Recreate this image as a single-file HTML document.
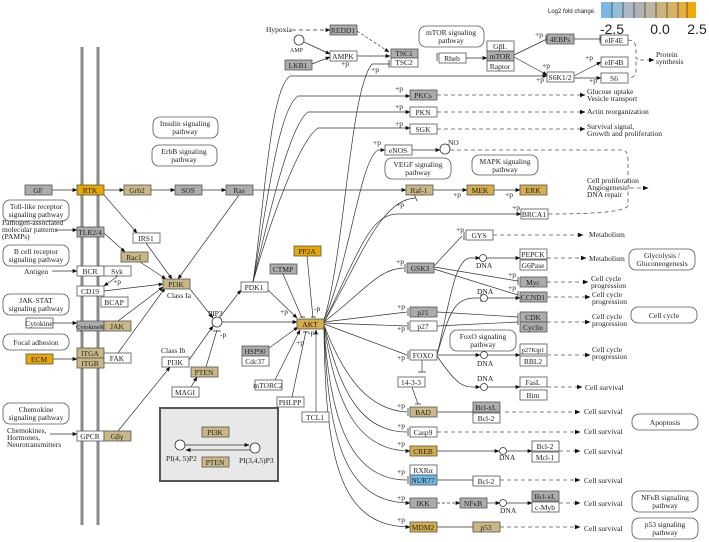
<!DOCTYPE html>
<html><head><meta charset="utf-8"><style>
html,body{margin:0;padding:0;background:#fff}
svg{display:block}
text{font-family:"Liberation Serif",serif;font-size:7.5px;fill:#222}
.n text,.c{text-anchor:middle}
rect.b{stroke:#555;stroke-width:0.8}
.w{fill:#fff}.g{fill:#acacac}.o{fill:#e8a800}.t{fill:#c9b886}.d{fill:#d5ad4a}.bl{fill:#6fb7e8}
.e{fill:none;stroke:#333;stroke-width:0.7}
.ds{fill:none;stroke:#555;stroke-width:0.8;stroke-dasharray:4 3}
.pw{fill:#fff;stroke:#555;stroke-width:0.8}
</style></head><body>
<svg width="709" height="542" viewBox="0 0 709 542" xmlns="http://www.w3.org/2000/svg">
<defs><marker id="a" viewBox="0 0 10 10" refX="9" refY="5" markerWidth="7" markerHeight="7" orient="auto"><path d="M0,1L10,5L0,9z" fill="#111"/></marker></defs>
<!-- membrane -->
<line x1="82" y1="47" x2="82" y2="525" stroke="#8a8a8a" stroke-width="3"/>
<line x1="98" y1="47" x2="98" y2="525" stroke="#8a8a8a" stroke-width="3"/>
<!-- legend -->
<text x="548" y="13" style="font-family:'Liberation Sans',sans-serif;font-size:6px">Log2 fold change</text>
<rect x="601" y="2" width="11" height="16" fill="#7ab9e6"/><rect x="612" y="2" width="11" height="16" fill="#94bdd8"/><rect x="623" y="2" width="11" height="16" fill="#abb9c6"/><rect x="634" y="2" width="11" height="16" fill="#b2b2b2"/><rect x="645" y="2" width="11" height="16" fill="#bdb6a2"/><rect x="656" y="2" width="11" height="16" fill="#ccb47e"/><rect x="667" y="2" width="11" height="16" fill="#d7b164"/><rect x="678" y="2" width="9" height="16" fill="#e4ae3e"/><rect x="687" y="2" width="9" height="16" fill="#efab0a"/>
<g stroke="#333" stroke-width="0.7"><line x1="612" y1="2" x2="612" y2="18"/><line x1="623" y1="2" x2="623" y2="18"/><line x1="634" y1="2" x2="634" y2="18"/><line x1="645" y1="2" x2="645" y2="18"/><line x1="656" y1="2" x2="656" y2="18"/><line x1="667" y1="2" x2="667" y2="18"/><line x1="678" y1="2" x2="678" y2="18"/><line x1="687" y1="2" x2="687" y2="18"/></g>
<g style="font-family:'Liberation Sans',sans-serif" font-size="14" text-anchor="middle"><text x="612" y="34" style="font-family:'Liberation Sans',sans-serif;font-size:14px">-2.5</text><text x="660" y="34" style="font-family:'Liberation Sans',sans-serif;font-size:14px">0.0</text><text x="697" y="34" style="font-family:'Liberation Sans',sans-serif;font-size:14px">2.5</text></g>

<!-- pathway boxes -->
<g>
<rect class="pw" x="153" y="117" width="65" height="21" rx="7"/><text class="c" x="185" y="126">Insulin signaling</text><text class="c" x="185" y="134">pathway</text>
<rect class="pw" x="152" y="145" width="65" height="21" rx="7"/><text class="c" x="184" y="154">ErbB signaling</text><text class="c" x="184" y="162">pathway</text>
<rect class="pw" x="3" y="200" width="66" height="21" rx="7"/><text class="c" x="36" y="209">Toll-like receptor</text><text class="c" x="36" y="217">signaling pathway</text>
<rect class="pw" x="3" y="245" width="66" height="21" rx="7"/><text class="c" x="36" y="254">B cell receptor</text><text class="c" x="36" y="262">signaling pathway</text>
<rect class="pw" x="3" y="294" width="66" height="21" rx="7"/><text class="c" x="36" y="303">JAK-STAT</text><text class="c" x="36" y="311">signaling pathway</text>
<rect class="pw" x="3" y="334" width="66" height="16" rx="7"/><text class="c" x="36" y="345">Focal adhesion</text>
<rect class="pw" x="3" y="403" width="66" height="21" rx="7"/><text class="c" x="36" y="412">Chemokine</text><text class="c" x="36" y="420">signaling pathway</text>
<rect class="pw" x="419" y="26" width="65" height="21" rx="7"/><text class="c" x="451" y="35">mTOR signaling</text><text class="c" x="451" y="43">pathway</text>
<rect class="pw" x="385" y="158" width="66" height="21" rx="7"/><text class="c" x="418" y="167">VEGF signaling</text><text class="c" x="418" y="175">pathway</text>
<rect class="pw" x="472" y="155" width="66" height="20" rx="7"/><text class="c" x="505" y="164">MAPK signaling</text><text class="c" x="505" y="172">pathway</text>
<rect class="pw" x="629" y="249" width="66" height="21" rx="7"/><text class="c" x="662" y="258">Glycolysis /</text><text class="c" x="662" y="266">Gluconeogenesis</text>
<rect class="pw" x="631" y="307" width="66" height="16" rx="7"/><text class="c" x="664" y="318">Cell cycle</text>
<rect class="pw" x="450" y="330" width="66" height="21" rx="7"/><text class="c" x="483" y="339">FoxO signaling</text><text class="c" x="483" y="347">pathway</text>
<rect class="pw" x="632" y="414" width="66" height="16" rx="7"/><text class="c" x="665" y="425">Apoptosis</text>
<rect class="pw" x="632" y="491" width="66" height="21" rx="7"/><text class="c" x="665" y="500">NFκB signaling</text><text class="c" x="665" y="508">pathway</text>
<rect class="pw" x="632" y="518" width="66" height="21" rx="7"/><text class="c" x="665" y="527">p53 signaling</text><text class="c" x="665" y="535">pathway</text>
</g>
<rect x="160" y="408" width="118" height="73" fill="#e8e8e8" stroke="#555" stroke-width="2"/>

<!-- edges -->
<g class="e" marker-end="url(#a)">
<path d="M292,30H330"  stroke-dasharray="4 3"/>
<path d="M304,42L330,54"/><path d="M312,64L330,57"/>
<path d="M357,31L389,52" stroke-dasharray="3 2"/>
<path d="M357,56H390"/>
<path d="M466,58H487"/><path d="M514,55L547,39" marker-end="none"/><path d="M514,57L547,75"/>
<path d="M574,39H601" marker-end="none"/><path d="M574,76L601,62"/><path d="M574,78H601"/>
<path d="M52,190H77"/><path d="M104,190H124"/><path d="M151,190H175"/><path d="M202,190H226"/>
<path d="M253,190H406"/><path d="M433,190H467"/><path d="M494,190H520"/>
<path d="M239,195L178,279"/><path d="M104,195L137,233"/><path d="M146,243L172,279"/>
<path d="M55,230H77"/><path d="M104,233L125,252"/><path d="M140,262L166,279"/>
<path d="M52,271H77"/><path d="M118,276L104,286"/><path d="M104,291L163,284"/>
<path d="M118,321L163,287"/><path d="M118,353L165,288"/><path d="M53,323H77"/><path d="M53,359H77"/>
<path d="M50,434H77"/><path d="M118,431L170,367"/>
<path d="M190,289L213,318"/><path d="M189,360L213,326"/>
<path d="M220,317L241,290"/><path d="M222,322H297"/>
<path d="M185,397L197,377"/>
<path d="M268,290L297,318"/><path d="M269,348L298,327"/><path d="M275,380L300,330"/><path d="M316,412V330"/>
<path d="M253,282C265,200 270,90 290,76H547"/>
<path d="M253,282C268,200 278,110 298,96H410"/>
<path d="M253,282C270,210 290,125 308,112H410"/>
<path d="M253,282C272,215 300,140 318,128H410"/>
<path d="M324,320C345,250 350,90 372,64H390" marker-end="none"/>
<path d="M324,320C350,260 360,160 378,150H385"/>
<path d="M412,150H440"/>
<path d="M324,322C360,260 380,200 415,198" marker-end="none"/>
<path d="M324,322C360,250 370,214 398,214H521"/>
<path d="M324,322C365,290 380,268 404,268" marker-end="none"/>
<path d="M434,266L462,236" marker-end="none"/>
<path d="M434,267L518,281" marker-end="none"/><path d="M434,269L518,295" marker-end="none"/>
<path d="M324,322L407,312" marker-end="none"/><path d="M324,323L407,326" marker-end="none"/><path d="M324,324L407,355" marker-end="none"/>
<path d="M324,325C345,380 370,410 407,412" marker-end="none"/>
<path d="M324,325C340,390 360,432 407,432" marker-end="none"/>
<path d="M324,325C335,400 355,451 410,451"/>
<path d="M324,326C330,420 350,480 407,480" marker-end="none"/>
<path d="M324,326C328,440 345,503 410,503"/>
<path d="M324,326C325,460 340,527 410,527"/>
<path d="M437,312L518,317" marker-end="none"/><path d="M437,326L518,322" marker-end="none"/>
<path d="M437,355C450,300 455,259 470,258H480"/><path d="M485,258H520"/>
<path d="M437,355C450,310 455,298 476,298H480" marker-end="none"/><path d="M487,298H520"/>
<path d="M437,355H480"/><path d="M487,355H520"/>
<path d="M437,356C460,390 465,387 480,387"/><path d="M487,387H520"/>
<path d="M437,412H473" marker-end="none"/><path d="M437,451H499"/><path d="M506,451H532"/>
<path d="M437,480H473" marker-end="none"/><path d="M437,503H460" stroke-dasharray="3 2"/><path d="M487,503H500"/><path d="M507,503H532"/>
<path d="M437,527H473" marker-end="none"/>
<path d="M422,360V372" marker-end="none"/><path d="M412,387L418,404" marker-end="none"/>
<path d="M292,397L306,331" marker-end="none"/><path d="M283,274L302,318" marker-end="none"/><path d="M307,256L313,318" marker-end="none"/><path d="M206,367L217,330" marker-end="none"/>
<path d="M182,445H249"/><path d="M253,450H186"/>
</g>
<!-- inhibition bars -->
<g stroke="#333" stroke-width="0.8">
<line x1="437" y1="53" x2="437" y2="61"/><line x1="546" y1="35" x2="546" y2="43"/><line x1="600" y1="35" x2="600" y2="43"/><line x1="389" y1="60" x2="389" y2="68"/>
<line x1="300" y1="317" x2="305" y2="317"/><line x1="311" y1="317" x2="316" y2="317"/><line x1="303" y1="332" x2="309" y2="332"/><line x1="213" y1="331" x2="221" y2="331"/>
<line x1="414" y1="194" x2="417" y2="201"/><line x1="405" y1="264" x2="405" y2="272"/><line x1="464" y1="232" x2="464" y2="240"/>
<line x1="518" y1="277" x2="518" y2="285"/><line x1="518" y1="291" x2="518" y2="299"/><line x1="408" y1="308" x2="408" y2="316"/><line x1="408" y1="322" x2="408" y2="330"/><line x1="408" y1="351" x2="408" y2="359"/>
<line x1="518" y1="313" x2="518" y2="325"/><line x1="481" y1="294" x2="481" y2="302"/><line x1="408" y1="408" x2="408" y2="416"/><line x1="408" y1="428" x2="408" y2="436"/><line x1="408" y1="476" x2="408" y2="484"/>
<line x1="473" y1="408" x2="473" y2="416"/><line x1="473" y1="476" x2="473" y2="484"/><line x1="473" y1="523" x2="473" y2="531"/><line x1="418" y1="372" x2="426" y2="372"/><line x1="415" y1="404" x2="421" y2="404"/>
</g>
<!-- dashed outputs -->
<g class="ds" marker-end="url(#a)">
<path d="M437,95H585"/><path d="M437,112H585"/><path d="M437,129H585"/>
<path d="M628,40Q636,40 636,50V58Q640,60 636,62V70Q636,78 628,78" marker-end="none"/><path d="M640,60H654"/>
<path d="M450,150H622Q628,150 628,160V185Q630,188 628,191V205Q628,214 548,214" marker-end="none"/><path d="M630,188H648"/>
<path d="M493,235H583"/><path d="M547,258H586"/><path d="M547,282H588"/><path d="M547,297H590"/><path d="M547,322H590"/><path d="M547,355H590"/><path d="M547,387H582"/>
<path d="M505,412H580"/><path d="M437,432H580"/><path d="M559,451H580"/><path d="M500,480H580"/><path d="M559,503H580"/><path d="M500,527H580"/>
</g>
<!-- circles -->
<g fill="#fff" stroke="#333" stroke-width="0.8">
<circle cx="299" cy="40" r="5"/><circle cx="445" cy="149" r="5"/><circle cx="217" cy="322" r="5"/><circle cx="180" cy="445" r="5"/><circle cx="255" cy="448" r="5"/>
<circle cx="483" cy="258" r="3.5"/><circle cx="484" cy="298" r="3.5"/><circle cx="484" cy="355" r="3.5"/><circle cx="484" cy="387" r="3.5"/><circle cx="503" cy="451" r="3.5"/><circle cx="503" cy="503" r="3.5"/>
</g>
<!-- nodes -->
<g class="n">
<rect class="b g" x="330" y="25" width="27" height="10"/><text x="343" y="33">REDD1</text>
<rect class="b w" x="330" y="51" width="27" height="10"/><text x="343" y="59">AMPK</text>
<rect class="b g" x="285" y="60" width="27" height="10"/><text x="298" y="68">LKB1</text>
<rect class="b g" x="391" y="49" width="27" height="9"/><text x="404" y="56">TSC1</text>
<rect class="b w" x="391" y="58" width="27" height="9"/><text x="404" y="65">TSC2</text>
<rect class="b w" x="439" y="53" width="27" height="10"/><text x="452" y="61">Rheb</text>
<rect class="b w" x="487" y="41" width="27" height="10"/><text x="500" y="49">GβL</text>
<rect class="b g" x="487" y="51" width="27" height="10"/><text x="500" y="59">mTOR</text>
<rect class="b w" x="487" y="61" width="27" height="10"/><text x="500" y="69">Raptor</text>
<rect class="b g" x="547" y="34" width="27" height="10"/><text x="560" y="42">4EBPs</text>
<rect class="b w" x="601" y="35" width="27" height="10"/><text x="614" y="43">eIF4E</text>
<rect class="b w" x="601" y="57" width="27" height="10"/><text x="614" y="65">eIF4B</text>
<rect class="b w" x="547" y="72" width="27" height="10"/><text x="560" y="80">S6K1/2</text>
<rect class="b w" x="601" y="73" width="27" height="10"/><text x="614" y="81">S6</text>
<rect class="b g" x="410" y="90" width="27" height="10"/><text x="423" y="98">PKCs</text>
<rect class="b w" x="410" y="107" width="27" height="10"/><text x="423" y="115">PKN</text>
<rect class="b w" x="410" y="124" width="27" height="10"/><text x="423" y="132">SGK</text>
<rect class="b w" x="385" y="145" width="27" height="10"/><text x="398" y="153">eNOS</text>
<rect class="b g" x="25" y="185" width="27" height="10"/><text x="38" y="193">GF</text>
<rect class="b o" x="77" y="185" width="27" height="10"/><text x="90" y="193">RTK</text>
<rect class="b t" x="124" y="185" width="27" height="10"/><text x="137" y="193">Grb2</text>
<rect class="b g" x="175" y="185" width="27" height="10"/><text x="188" y="193">SOS</text>
<rect class="b g" x="226" y="185" width="27" height="10"/><text x="239" y="193">Ras</text>
<rect class="b t" x="406" y="185" width="27" height="10"/><text x="419" y="193">Raf-1</text>
<rect class="b d" x="467" y="185" width="27" height="10"/><text x="480" y="193">MEK</text>
<rect class="b d" x="520" y="185" width="27" height="10"/><text x="533" y="193">ERK</text>
<rect class="b w" x="521" y="209" width="27" height="10"/><text x="534" y="217">BRCA1</text>
<rect class="b g" x="77" y="227" width="27" height="10"/><text x="90" y="235">TLR2/4</text>
<rect class="b w" x="133" y="233" width="27" height="10"/><text x="146" y="241">IRS1</text>
<rect class="b t" x="121" y="252" width="27" height="10"/><text x="134" y="260">Rac1</text>
<rect class="b w" x="466" y="230" width="27" height="10"/><text x="479" y="238">GYS</text>
<rect class="b w" x="520" y="249" width="27" height="10"/><text x="533" y="257">PEPCK</text>
<rect class="b w" x="520" y="260" width="27" height="10"/><text x="533" y="268">G6Pase</text>
<rect class="b o" x="294" y="246" width="27" height="10"/><text x="307" y="254">PP2A</text>
<rect class="b g" x="270" y="264" width="27" height="10"/><text x="283" y="272">CTMP</text>
<rect class="b g" x="407" y="263" width="27" height="10"/><text x="420" y="271">GSK3</text>
<rect class="b w" x="77" y="266" width="27" height="10"/><text x="90" y="274">BCR</text>
<rect class="b w" x="104" y="266" width="27" height="10"/><text x="117" y="274">Syk</text>
<rect class="b g" x="520" y="277" width="27" height="10"/><text x="533" y="285">Myc</text>
<rect class="b t" x="163" y="279" width="27" height="10"/><text x="176" y="287">PI3K</text>
<rect class="b w" x="241" y="282" width="27" height="10"/><text x="254" y="290">PDK1</text>
<rect class="b w" x="77" y="286" width="27" height="10"/><text x="90" y="294">CD19</text>
<rect class="b g" x="520" y="292" width="27" height="10"/><text x="533" y="300">CCND1</text>
<rect class="b w" x="101" y="297" width="27" height="10"/><text x="114" y="305">BCAP</text>
<rect class="b g" x="410" y="307" width="27" height="10"/><text x="423" y="315">p21</text>
<rect class="b g" x="520" y="312" width="27" height="10"/><text x="533" y="320">CDK</text>
<rect class="b g" x="520" y="322" width="27" height="10"/><text x="533" y="330">Cyclin</text>
<rect class="b d" x="297" y="319" width="27" height="10"/><text x="310" y="327">AKT</text>
<rect class="b w" x="26" y="318" width="27" height="10"/><text x="39" y="326">Cytokine</text>
<rect class="b g" x="77" y="321" width="27" height="10"/><text x="90" y="329" style="font-size:6.5px">CytokineR</text>
<rect class="b t" x="104" y="321" width="27" height="10"/><text x="117" y="329">JAK</text>
<rect class="b w" x="410" y="321" width="27" height="10"/><text x="423" y="329">p27</text>
<rect class="b w" x="520" y="344" width="27" height="10"/><text x="533" y="352" style="font-size:6.5px">p27Kip1</text>
<rect class="b g" x="242" y="346" width="27" height="10"/><text x="255" y="354">HSP90</text>
<rect class="b w" x="242" y="356" width="27" height="10"/><text x="255" y="364">Cdc37</text>
<rect class="b t" x="77" y="348" width="27" height="10"/><text x="90" y="356">ITGA</text>
<rect class="b t" x="77" y="358" width="27" height="10"/><text x="90" y="366">ITGB</text>
<rect class="b o" x="26" y="354" width="27" height="10"/><text x="39" y="362">ECM</text>
<rect class="b w" x="104" y="353" width="27" height="10"/><text x="117" y="361">FAK</text>
<rect class="b w" x="410" y="350" width="27" height="10"/><text x="423" y="358">FOXO</text>
<rect class="b w" x="520" y="356" width="27" height="10"/><text x="533" y="364">RBL2</text>
<rect class="b w" x="162" y="357" width="27" height="10"/><text x="175" y="365">PI3K</text>
<rect class="b t" x="191" y="367" width="27" height="10"/><text x="204" y="375">PTEN</text>
<rect class="b w" x="398" y="377" width="27" height="10"/><text x="411" y="385">14-3-3</text>
<rect class="b w" x="520" y="377" width="27" height="10"/><text x="533" y="385">FasL</text>
<rect class="b w" x="255" y="380" width="27" height="10"/><text x="268" y="388">mTORC2</text>
<rect class="b w" x="172" y="387" width="27" height="10"/><text x="185" y="395">MAGI</text>
<rect class="b w" x="520" y="390" width="27" height="10"/><text x="533" y="398">Bim</text>
<rect class="b w" x="277" y="397" width="27" height="10"/><text x="290" y="405">PHLPP</text>
<rect class="b g" x="473" y="402" width="27" height="10"/><text x="486" y="410">Bcl-xL</text>
<rect class="b t" x="410" y="407" width="27" height="10"/><text x="423" y="415">BAD</text>
<rect class="b w" x="302" y="412" width="27" height="10"/><text x="315" y="420">TCL1</text>
<rect class="b w" x="473" y="413" width="27" height="10"/><text x="486" y="421">Bcl-2</text>
<rect class="b t" x="202" y="427" width="27" height="10"/><text x="215" y="435">PI3K</text>
<rect class="b w" x="410" y="427" width="27" height="10"/><text x="423" y="435">Casp9</text>
<rect class="b w" x="77" y="431" width="27" height="10"/><text x="90" y="439">GPCR</text>
<rect class="b t" x="104" y="431" width="27" height="10"/><text x="117" y="439">Gβγ</text>
<rect class="b w" x="532" y="441" width="27" height="10"/><text x="545" y="449">Bcl-2</text>
<rect class="b d" x="410" y="446" width="27" height="10"/><text x="423" y="454">CREB</text>
<rect class="b w" x="532" y="452" width="27" height="10"/><text x="545" y="460">Mcl-1</text>
<rect class="b t" x="202" y="457" width="27" height="10"/><text x="215" y="465">PTEN</text>
<rect class="b w" x="410" y="465" width="27" height="10"/><text x="423" y="473">RXRα</text>
<rect class="b bl" x="410" y="475" width="27" height="10"/><text x="423" y="483">NUR77</text>
<rect class="b w" x="473" y="476" width="27" height="10"/><text x="486" y="484">Bcl-2</text>
<rect class="b g" x="532" y="491" width="27" height="10"/><text x="545" y="499">Bcl-xL</text>
<rect class="b g" x="410" y="498" width="27" height="10"/><text x="423" y="506">IKK</text>
<rect class="b g" x="460" y="498" width="27" height="10"/><text x="473" y="506">NFκB</text>
<rect class="b w" x="532" y="502" width="27" height="10"/><text x="545" y="510">c-Myb</text>
<rect class="b d" x="410" y="522" width="27" height="10"/><text x="423" y="530">MDM2</text>
<rect class="b t" x="473" y="522" width="27" height="10"/><text x="486" y="530">p53</text>
</g>
<!-- labels -->
<g>
<text x="266" y="32">Hypoxia</text><text x="290" y="52" style="font-size:6px">AMP</text><text x="448" y="145">NO</text>
<text x="2" y="225">Pathogen-associated</text><text x="2" y="232">molecular patterns</text><text x="2" y="239">(PAMPs)</text>
<text x="24" y="274">Antigen</text><text x="167" y="298">Class Ia</text><text x="161" y="353">Class Ib</text><text x="208" y="316">PIP3</text>
<text x="7" y="433">Chemokines,</text><text x="7" y="440">Hormones,</text><text x="7" y="447">Neurotransmitters</text>
<text x="166" y="461">PI(4, 5)P2</text><text x="239" y="463">PI(3,4,5)P3</text>
<text x="656" y="57">Protein</text><text x="656" y="64">synthesis</text>
<text x="587" y="94">Glucose uptake</text><text x="587" y="101">Vesicle transport</text><text x="587" y="114">Actin reorganization</text>
<text x="587" y="129">Survival signal,</text><text x="587" y="136">Growth and proliferation</text>
<text x="587" y="183">Cell proliferation</text><text x="587" y="190">Angiogenesis</text><text x="587" y="197">DNA repair</text>
<text x="589" y="237">Metabolism</text><text x="589" y="261">Metabolism</text>
<text x="591" y="281">Cell cycle</text><text x="591" y="288">progression</text><text x="592" y="297">Cell cycle</text><text x="592" y="304">progression</text>
<text x="592" y="319">Cell cycle</text><text x="592" y="326">progression</text><text x="592" y="352">Cell cycle</text><text x="592" y="359">progression</text>
<text x="585" y="390">Cell survival</text><text x="584" y="414">Cell survival</text><text x="584" y="434">Cell survival</text><text x="584" y="454">Cell survival</text><text x="584" y="483">Cell survival</text><text x="584" y="506">Cell survival</text><text x="584" y="531">Cell survival</text>
<text x="476" y="268">DNA</text><text x="477" y="294">DNA</text><text x="477" y="366">DNA</text><text x="477" y="381">DNA</text><text x="499" y="460">DNA</text><text x="500" y="513">DNA</text>
<g style="font-size:6.5px"><text x="371" y="72">+p</text><text x="535" y="37">+p</text><text x="542" y="68">+p</text><text x="585" y="60">+p</text><text x="589" y="83">+p</text><text x="536" y="82">+p</text>
<text x="395" y="91">+p</text><text x="395" y="109">+p</text><text x="395" y="126">+p</text><text x="373" y="145">+p</text><text x="396" y="207">+p</text><text x="453" y="197">+p</text><text x="505" y="197">+p</text><text x="512" y="210">+p</text>
<text x="456" y="232">+p</text><text x="396" y="264">+p</text><text x="508" y="277">+p</text><text x="508" y="290">+p</text><text x="397" y="309">+p</text><text x="397" y="331">+p</text><text x="397" y="360">+p</text>
<text x="397" y="408">+p</text><text x="397" y="428">+p</text><text x="397" y="446">+p</text><text x="397" y="474">+p</text><text x="397" y="500">+p</text><text x="397" y="522">+p</text>
<text x="280" y="314">+p</text><text x="314" y="311">-p</text><text x="296" y="345">+p</text><text x="308" y="335">-p</text><text x="220" y="337">-p</text><text x="113" y="284">+p</text><text x="341" y="66">+p</text></g>
</g>
</svg>
</body></html>
